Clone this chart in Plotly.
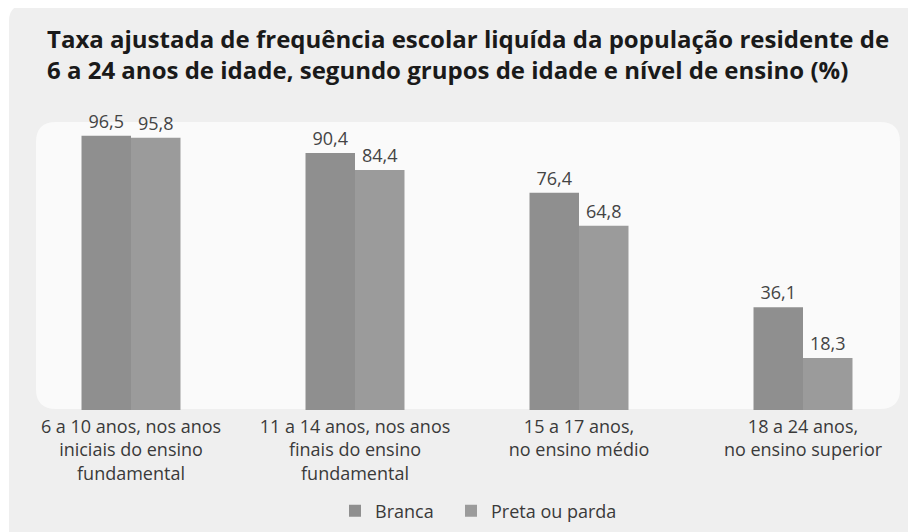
import plotly.graph_objects as go

categories = [
    "6 a 10 anos, nos anos<br>iniciais do ensino<br>fundamental",
    "11 a 14 anos, nos anos<br>finais do ensino<br>fundamental",
    "15 a 17 anos,<br>no ensino médio",
    "18 a 24 anos,<br>no ensino superior",
]
branca = [96.5, 90.4, 76.4, 36.1]
preta_parda = [95.8, 84.4, 64.8, 18.3]
series_names = ["Branca", "Preta ou parda"]
title_text = ("Taxa ajustada de frequência escolar liquída da população residente de<br>"
              "6 a 24 anos de idade, segundo grupos de idade e nível de ensino (%)")

# figure is drawn inside the page's 8px body margin
W, H = 908, 524
ML, MT = 29, 114
PW, PH = 863, 288
MR, MB = W - ML - PW, H - MT - PH

FONT = "Open Sans"
fig = go.Figure()
for name, vals, col, leg in [(series_names[0], branca, "#8f8f8f", "legend"),
                             (series_names[1], preta_parda, "#9b9b9b", "legend2")]:
    fig.add_trace(go.Bar(
        x=list(range(len(categories))), y=vals, name=name, legend=leg,
        marker=dict(color=col, line=dict(width=0)),
        texttemplate="%{y:.1f}", textposition="outside",
        textfont=dict(family=FONT, size=18, color="#444444"),
        constraintext="none", cliponaxis=False,
    ))


def rrect(x0, y0, x1, y1, r):
    # pixel path relative to plot-area bottom-left, y up
    return (f"M{x0+r},{y0} L{x1-r},{y0} Q{x1},{y0} {x1},{y0+r} "
            f"L{x1},{y1-r} Q{x1},{y1} {x1-r},{y1} L{x0+r},{y1} "
            f"Q{x0},{y1} {x0},{y1-r} L{x0},{y0+r} Q{x0},{y0} {x0+r},{y0} Z")

shapes = [
    dict(type="path", xref="paper", yref="paper", xsizemode="pixel", ysizemode="pixel",
         xanchor=0, yanchor=0, path=rrect(1 - ML, -MB - 30, PW + 80, PH + MT + 3, 16),
         fillcolor="#efefef", line=dict(width=0), layer="below"),
    dict(type="path", xref="paper", yref="paper", xsizemode="pixel", ysizemode="pixel",
         xanchor=0, yanchor=0, path=rrect(-1, 1, PW, PH, 20),
         fillcolor="#fafafa", line=dict(width=0), layer="below"),
]

leg_y = (MT + PH - 503) / PH
leg_common = dict(orientation="h", xref="paper", yref="paper",
                  xanchor="left", y=leg_y, yanchor="middle",
                  font=dict(family=FONT, size=18, color="#3a3a3a"),
                  bgcolor="rgba(0,0,0,0)", itemwidth=30)

px_per_cat = 224.0
left_c = 123.0
fig.update_layout(
    width=W, height=H,
    margin=dict(l=ML, r=MR, t=MT, b=MB, pad=0, autoexpand=False),
    paper_bgcolor="white", plot_bgcolor="rgba(0,0,0,0)",
    separators=",.",
    barmode="group", bargap=1 - 99 / px_per_cat, bargroupgap=0,
    font=dict(family=FONT, color="#3a3a3a"),
    title=dict(text=title_text, x=39 / W, xanchor="left", xref="container",
               y=1 - 40 / H, yanchor="top", yref="container",
               font=dict(family=FONT, size=24, color="#1a1a1a", weight=700)),
    xaxis=dict(range=[(ML - left_c) / px_per_cat, (ML + PW - left_c) / px_per_cat],
               tickmode="array", tickvals=list(range(len(categories))), ticktext=categories,
               tickfont=dict(family=FONT, size=18, color="#3a3a3a"),
               showgrid=False, zeroline=False, showline=False, ticks="", ticklabelstandoff=4),
    yaxis=dict(range=[0, PH / 2.843], visible=False, showgrid=False, zeroline=False),
    legend=dict(x=(327 - ML) / PW, **leg_common),
    legend2=dict(x=(443 - ML) / PW, **leg_common),
    shapes=shapes,
    showlegend=True,
)

fig.write_html("out.html")
